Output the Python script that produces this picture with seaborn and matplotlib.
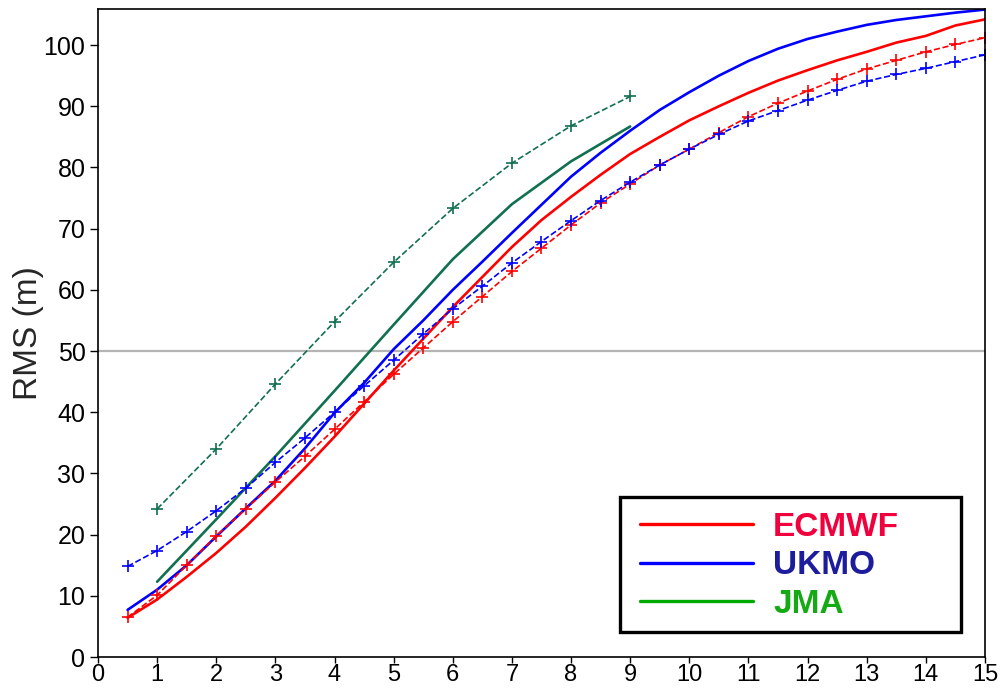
"""
    RMS error of forecasts (m) against forecast day for ECMWF, UKMO and JMA.
    Solid lines and dashed lines with + markers are two versions of each centre.
"""
import matplotlib.pyplot as plt
from matplotlib.lines import Line2D
from matplotlib.patches import Rectangle
import seaborn as sns

# forecast days (half-day steps) for ECMWF and UKMO
days = [0.5, 1, 1.5, 2, 2.5, 3, 3.5, 4, 4.5, 5, 5.5, 6, 6.5, 7, 7.5, 8,
        8.5, 9, 9.5, 10, 10.5, 11, 11.5, 12, 12.5, 13, 13.5, 14, 14.5, 15]
ecmwf_solid = [6.4, 9.4, 13.1, 17.0, 21.3, 26.0, 30.9, 36.0, 41.4, 46.8,
               52.0, 57.2, 62.1, 67.0, 71.4, 75.2, 78.8, 82.2, 85.0, 87.7,
               90.0, 92.2, 94.2, 95.9, 97.5, 98.9, 100.4, 101.5, 103.2, 104.2]
ecmwf_dash = [6.5, 10.1, 15.0, 19.8, 24.2, 28.6, 32.8, 37.2, 41.7, 46.2,
              50.5, 54.8, 58.9, 63.0, 66.8, 70.6, 74.2, 77.3, 80.4, 83.0,
              85.7, 88.3, 90.5, 92.5, 94.4, 96.1, 97.5, 98.9, 100.1, 101.2]
ukmo_solid = [7.7, 11.0, 15.0, 19.7, 24.3, 28.8, 34.1, 39.9, 44.8, 50.3,
              55.0, 60.0, 64.6, 69.3, 73.9, 78.5, 82.4, 86.0, 89.4, 92.3,
              95.0, 97.4, 99.4, 101.0, 102.2, 103.3, 104.1, 104.7, 105.3, 105.8]
ukmo_dash = [14.8, 17.4, 20.5, 23.9, 27.6, 31.8, 35.8, 40.0, 44.3, 48.5,
             52.8, 56.9, 60.6, 64.4, 67.9, 71.3, 74.6, 77.6, 80.4, 83.0,
             85.4, 87.6, 89.3, 91.0, 92.6, 94.1, 95.2, 96.2, 97.3, 98.4]

# JMA only goes to day 9
days_jma = [1, 2, 3, 4, 5, 6, 7, 8, 9]
jma_solid = [12.3, 22.5, 32.8, 43.5, 54.3, 65.0, 74.0, 81.0, 86.7]
jma_dash = [24.2, 34.0, 44.6, 54.8, 64.5, 73.3, 80.7, 86.8, 91.6]

centres = ['ECMWF', 'UKMO', 'JMA']
legend_line_colors = ['#ff0000', '#0000ff', '#00aa00']
legend_text_colors = ['#f0003c', '#1c1c9c', '#14aa14']

red = '#ff0000'
blue = '#0000ff'
green = '#11704f'

sns.set_style('ticks')
plt.rcParams['font.family'] = ['Liberation Sans', 'DejaVu Sans']

fig, ax = plt.subplots(figsize=(10.02, 6.9), dpi=100)
fig.subplots_adjust(left=0.0978, right=0.983, top=0.987, bottom=0.0478)

ax.axhline(50, color='#b4b4b4', lw=1.6, zorder=0)

solid_kw = dict(linewidth=1.9)

def dashed(x, y, color):
    # seaborn paints marker edges white by default, so set them explicitly
    sns.lineplot(x=x, y=y, color=color, ax=ax, linewidth=1.2, linestyle='--',
                 marker='+', markersize=8, markeredgewidth=1.2,
                 markeredgecolor=color)

sns.lineplot(x=days, y=ecmwf_solid, color=red, ax=ax, **solid_kw)
sns.lineplot(x=days, y=ukmo_solid, color=blue, ax=ax, **solid_kw)
sns.lineplot(x=days_jma, y=jma_solid, color=green, ax=ax, **solid_kw)
dashed(days, ecmwf_dash, red)
dashed(days, ukmo_dash, blue)
dashed(days_jma, jma_dash, green)

ax.set_xlim(0, 15)
ax.set_ylim(0, 105.9)
ax.set_xticks(range(0, 16))
ax.set_yticks(range(0, 101, 10))
ax.tick_params(axis='y', labelsize=18, length=6, width=1, direction='out',
               colors='black', pad=3)
ax.tick_params(axis='x', labelsize=17, length=4, width=1, direction='out',
               colors='black', pad=1)
ax.set_ylabel('RMS (m)', fontsize=24, labelpad=0)
ax.set_xlabel('')
for side in ['top', 'right', 'left', 'bottom']:
    ax.spines[side].set_visible(True)
    ax.spines[side].set_linewidth(1.2)
    ax.spines[side].set_color('black')

# legend box drawn by hand so it can be wider than its contents
ax.add_patch(Rectangle((0.5885, 0.0386), 0.3845, 0.2084,
                       transform=ax.transAxes, fill=True, facecolor='white',
                       edgecolor='black', linewidth=2.4, zorder=5))
handles = [Line2D([], [], color=c, lw=2.4) for c in legend_line_colors]
leg = ax.legend(handles, centres, loc='upper left',
                bbox_to_anchor=(0.5806, 0.2654), frameon=False,
                prop={'size': 24, 'weight': 'bold'}, handlelength=3.4,
                handletextpad=0.6, labelspacing=0.23, borderpad=0.3,
                labelcolor=legend_text_colors)
leg.set_zorder(6)

fig.savefig('out.png', dpi=100)
